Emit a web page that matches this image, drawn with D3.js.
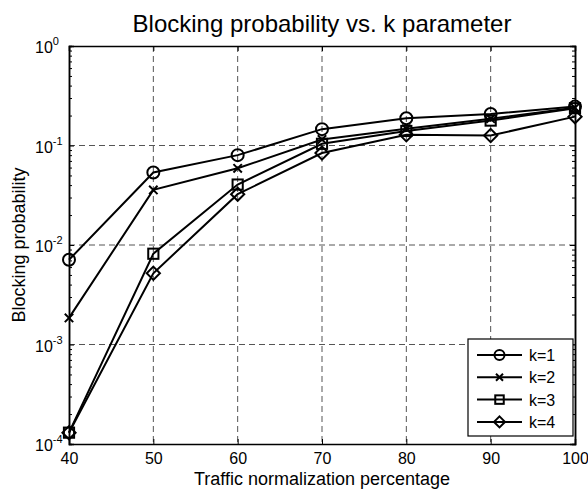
<!DOCTYPE html>
<html>
<head>
<meta charset="utf-8">
<script src="https://cdn.jsdelivr.net/npm/d3@7"></script>
<style>
  body { margin: 0; background: #fff; }
  text { font-family: "Liberation Sans", Arial, sans-serif; }
</style>
</head>
<body>
<div id="chart"></div>
<script>
// data
var traffic = [40, 50, 60, 70, 80, 90, 100];
var k1 = [0.0071, 0.0535, 0.080, 0.146, 0.188, 0.207, 0.246];
var k2 = [0.00185, 0.0358, 0.059, 0.115, 0.147, 0.186, 0.239];
var k3 = [0.00013, 0.00817, 0.0405, 0.104, 0.140, 0.178, 0.237];
var k4 = [0.00013, 0.0052, 0.0324, 0.084, 0.128, 0.126, 0.195];
var seriesNames = ["k=1", "k=2", "k=3", "k=4"];
var markers = ["circle", "cross", "square", "diamond"];
var xTicks = [40, 50, 60, 70, 80, 90, 100];
var yTicks = [1e-4, 1e-3, 1e-2, 1e-1, 1];

var W = 588, H = 491;
var margin = {top: 46, right: 13, bottom: 47, left: 69};
var width = W - margin.left - margin.right,
    height = H - margin.top - margin.bottom;

var svg = d3.select("#chart").append("svg")
    .attr("width", W)
    .attr("height", H);

var g = svg.append("g")
    .attr("transform", "translate(" + margin.left + "," + margin.top + ")");

var x = d3.scaleLinear().domain([40, 100]).range([0, width]);
var y = d3.scaleLog().domain([1e-4, 1]).range([height, 0]);

// minor ticks for log axis
var minor = [];
for (var e = -4; e < 0; e++) {
    for (var m = 2; m <= 9; m++) minor.push(m * Math.pow(10, e));
}

// grid
g.append("g").selectAll("line.gx")
    .data(xTicks.slice(1, -1))
    .enter().append("line")
    .attr("x1", function(d) { return x(d); })
    .attr("x2", function(d) { return x(d); })
    .attr("y1", 0).attr("y2", height)
    .attr("stroke", "#555").attr("stroke-width", 1)
    .attr("stroke-dasharray", "6,4");

g.append("g").selectAll("line.gy")
    .data(yTicks.slice(1, -1))
    .enter().append("line")
    .attr("y1", function(d) { return y(d); })
    .attr("y2", function(d) { return y(d); })
    .attr("x1", 0).attr("x2", width)
    .attr("stroke", "#555").attr("stroke-width", 1)
    .attr("stroke-dasharray", "6,4");

// axes (ticks inward, box all round)
var tl = 5;
var xAxis = d3.axisBottom(x).tickValues(xTicks).tickSize(-tl).tickPadding(9);
var xTop = d3.axisTop(x).tickValues(xTicks).tickSize(-tl).tickFormat("");
var yAxis = d3.axisLeft(y).tickValues(yTicks).tickSize(-tl).tickFormat("");
var yRight = d3.axisRight(y).tickValues(yTicks).tickSize(-tl).tickFormat("");
var yMinL = d3.axisLeft(y).tickValues(minor).tickSize(-3).tickFormat("");
var yMinR = d3.axisRight(y).tickValues(minor).tickSize(-3).tickFormat("");

function styleAxis(sel) {
    sel.select(".domain").attr("stroke", "#000").attr("stroke-width", 1.5);
    sel.selectAll(".tick line").attr("stroke", "#000").attr("stroke-width", 1);
    sel.selectAll(".tick text").attr("font-size", 16).attr("fill", "#000");
}

g.append("g").attr("transform", "translate(0," + height + ")").call(xAxis).call(styleAxis);
g.append("g").call(xTop).call(styleAxis);
g.append("g").call(yAxis).call(styleAxis);
g.append("g").attr("transform", "translate(" + width + ",0)").call(yRight).call(styleAxis);
g.append("g").call(yMinL).call(styleAxis);
g.append("g").attr("transform", "translate(" + width + ",0)").call(yMinR).call(styleAxis);

// y tick labels 10^n, left aligned like MATLAB does
var yl = g.append("g").selectAll("g.ylab")
    .data(yTicks)
    .enter().append("text")
    .attr("x", -34)
    .attr("y", function(d) { return y(d) + 7; })
    .attr("text-anchor", "start")
    .attr("font-size", 16)
    .attr("fill", "#000");
yl.append("tspan").text("10");
yl.append("tspan")
    .attr("font-size", 11)
    .attr("dy", -8)
    .text(function(d) { return Math.round(Math.log10(d)); });

// series
var allSeries = [k1, k2, k3, k4];
var line = d3.line()
    .x(function(d, i) { return x(traffic[i]); })
    .y(function(d) { return y(d); });

function drawMarker(sel, type, size) {
    if (type === "circle") {
        sel.append("circle").attr("r", size).attr("fill", "none")
            .attr("stroke", "#000").attr("stroke-width", 2);
    } else if (type === "cross") {
        var s = size * 0.7;
        sel.append("path").attr("d", "M" + (-s) + "," + (-s) + "L" + s + "," + s + "M" + (-s) + "," + s + "L" + s + "," + (-s))
            .attr("stroke", "#000").attr("stroke-width", 2);
    } else if (type === "square") {
        var q = size * 0.85;
        sel.append("rect").attr("x", -q).attr("y", -q).attr("width", 2 * q).attr("height", 2 * q)
            .attr("fill", "none").attr("stroke", "#000").attr("stroke-width", 2);
    } else if (type === "diamond") {
        var dd = size * 1.1;
        sel.append("path").attr("d", "M0," + (-dd) + "L" + dd + ",0L0," + dd + "L" + (-dd) + ",0Z")
            .attr("fill", "none").attr("stroke", "#000").attr("stroke-width", 2);
    }
}

allSeries.forEach(function(s, si) {
    g.append("path")
        .datum(s)
        .attr("d", line)
        .attr("fill", "none")
        .attr("stroke", "#000")
        .attr("stroke-width", 2);
    s.forEach(function(v, i) {
        var mg = g.append("g")
            .attr("transform", "translate(" + x(traffic[i]) + "," + y(v) + ")");
        drawMarker(mg, markers[si], 6);
    });
});

// legend
var lx = 468 - margin.left, ly = 339 - margin.top;
var legend = g.append("g").attr("transform", "translate(" + lx + "," + ly + ")");
legend.append("rect")
    .attr("width", 105).attr("height", 97)
    .attr("fill", "#fff").attr("stroke", "#000").attr("stroke-width", 1.2);
seriesNames.forEach(function(name, i) {
    var yy = 16 + i * 22.3;
    legend.append("line")
        .attr("x1", 9).attr("x2", 54).attr("y1", yy).attr("y2", yy)
        .attr("stroke", "#000").attr("stroke-width", 2);
    var mg = legend.append("g").attr("transform", "translate(31.5," + yy + ")");
    drawMarker(mg, markers[i], 5);
    legend.append("text")
        .attr("x", 61).attr("y", yy + 6)
        .attr("font-size", 16)
        .text(name);
});

// titles
svg.append("text")
    .attr("x", margin.left + width / 2)
    .attr("y", 32)
    .attr("text-anchor", "middle")
    .attr("font-size", 24)
    .text("Blocking probability vs. k parameter");

svg.append("text")
    .attr("x", margin.left + width / 2)
    .attr("y", 485)
    .attr("text-anchor", "middle")
    .attr("font-size", 18)
    .text("Traffic normalization percentage");

svg.append("text")
    .attr("transform", "translate(25," + (margin.top + height / 2) + ") rotate(-90)")
    .attr("text-anchor", "middle")
    .attr("font-size", 18)
    .text("Blocking probability");
</script>
</body>
</html>
